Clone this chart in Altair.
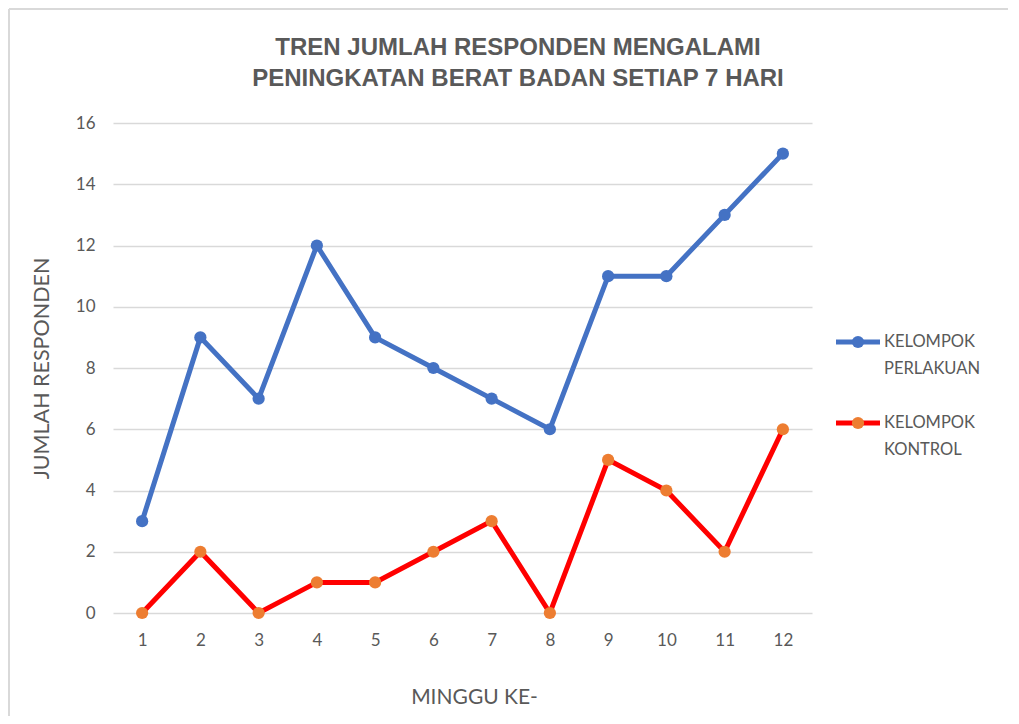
import altair as alt
import pandas as pd

weeks = [str(i) for i in range(1, 13)]
perlakuan = [3, 9, 7, 12, 9, 8, 7, 6, 11, 11, 13, 15]
kontrol = [0, 2, 0, 1, 1, 2, 3, 0, 5, 4, 2, 6]
series_names = ["KELOMPOK PERLAKUAN", "KELOMPOK KONTROL"]
line_colors = ["#4472C4", "#FF0000"]
point_colors = ["#4472C4", "#ED7D31"]
title_lines = "TREN JUMLAH RESPONDEN MENGALAMI\nPENINGKATAN BERAT BADAN SETIAP 7 HARI"

rows = []
for w, a, b in zip(weeks, perlakuan, kontrol):
    rows.append({"minggu": w, "jumlah": a, "kelompok": series_names[0]})
    rows.append({"minggu": w, "jumlah": b, "kelompok": series_names[1]})
df = pd.DataFrame(rows)

W, H = 699, 490
PL, PT, PR, PB = 105, 115, 196, 103
FONT = "Lato"
GRAY = "#595959"

xenc = alt.X("minggu:O", sort=weeks,
             scale=alt.Scale(type="point", padding=0.5),
             axis=alt.Axis(title="MINGGU KE-", labelAngle=0, ticks=False, domain=False,
                           labelPadding=19, labelFontSize=17, labelColor=GRAY, labelFont=FONT,
                           titleFont=FONT, titleFontSize=21, titleColor=GRAY, titleFontWeight="normal",
                           titleX=361, titleY=84, titleAlign="center", titleBaseline="middle", grid=False))
yenc = alt.Y("jumlah:Q", scale=alt.Scale(domain=[0, 16], nice=False),
             axis=alt.Axis(title="JUMLAH RESPONDEN", values=list(range(0, 17, 2)), ticks=False, domain=False,
                           labelPadding=18, labelFontSize=17, labelColor=GRAY, labelFont=FONT,
                           grid=True, gridColor="#D9D9D9", gridWidth=1.5,
                           titleFont=FONT, titleFontSize=21.5, titleColor=GRAY, titleFontWeight="normal",
                           titleAngle=-90, titleX=-71, titleY=245, titleAlign="center", titleBaseline="middle"))

base = alt.Chart(df)
lines = base.mark_line(strokeWidth=5).encode(
    x=xenc, y=yenc,
    color=alt.Color("kelompok:N", scale=alt.Scale(domain=series_names, range=line_colors), legend=None),
    detail="kelompok:N",
)
points = base.mark_circle(size=150, opacity=1).encode(
    x=xenc, y=yenc,
    fill=alt.Fill("kelompok:N", scale=alt.Scale(domain=series_names, range=point_colors), legend=None),
)

one = alt.Data(values=[{"a": 1}])

border_top = alt.Chart(one).mark_rule(color="#D9D9D9", strokeWidth=2).encode(
    x=alt.value(-PL + 1), x2=alt.value(W + PR + 20), y=alt.value(-PT + 1))
border_left = alt.Chart(one).mark_rule(color="#D9D9D9", strokeWidth=2).encode(
    x=alt.value(-PL + 1), y=alt.value(-PT + 1), y2=alt.value(H + PB + 20))

title = alt.Chart(one).mark_text(lineBreak="\n", font="Liberation Sans", fontWeight="bold", fontSize=24,
                                 color=GRAY, align="center", baseline="middle", lineHeight=31).encode(
    x=alt.value(405), y=alt.value(-75), text=alt.value(title_lines))

leg_y = [219, 300]
leg = []
for i, name in enumerate(series_names):
    d = alt.Data(values=[{"n": name}])
    ln = alt.Chart(d).mark_rule(color=line_colors[i], strokeWidth=5).encode(
        x=alt.value(723), x2=alt.value(767), y=alt.value(leg_y[i]))
    pt = alt.Chart(d).mark_circle(size=150, opacity=1, color=point_colors[i]).encode(
        x=alt.value(745), y=alt.value(leg_y[i]))
    tx = alt.Chart(d).mark_text(lineBreak=" ", font=FONT, fontSize=16.5, color=GRAY, align="left",
                                baseline="middle", lineHeight=27).encode(
        x=alt.value(771), y=alt.value(leg_y[i]), text="n:N")
    leg += [ln, pt, tx]

chart = alt.layer(border_top, border_left, lines, points, title, *leg).properties(
    width=W, height=H,
    autosize=alt.AutoSizeParams(type="none"),
    padding={"left": PL, "top": PT, "right": PR, "bottom": PB},
    view=alt.ViewBackground(stroke="transparent", strokeWidth=0),
).configure_view(stroke="transparent", strokeWidth=0).configure_axis(grid=True).configure_axisX(grid=False).configure(background="white")

chart.save("out.html", embed_options={"renderer": "svg", "actions": False})
